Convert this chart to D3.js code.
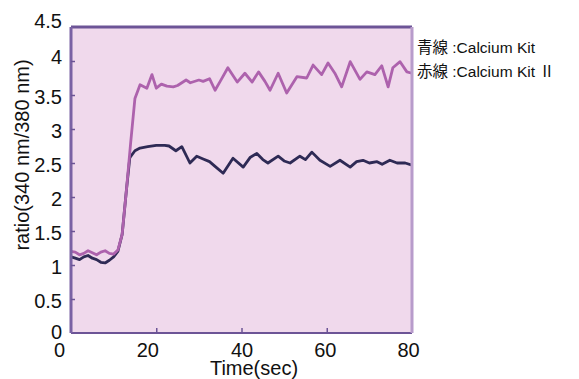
<!DOCTYPE html>
<html>
<head>
<meta charset="utf-8">
<script src="https://cdn.jsdelivr.net/npm/d3@7"></script>
<style>
  body { margin: 0; background: #fff; }
  svg text { font-family: "Liberation Sans", Arial, sans-serif; fill: #111; }
</style>
</head>
<body>
<svg id="chart" width="579" height="379"></svg>
<script>
// values
const xTicks = [0, 20, 40, 60, 80];
const yTicks = [0, 0.5, 1, 1.5, 2, 2.5, 3, 3.5, 4, 4.5];

// 赤線 : Calcium Kit II
const timeKit2 = [0,1,2,3,4,5,6,7,8,9,10,11,12,13,14,15,16.2,17.8,19,20,21.2,22.5,24,25,27,28,30,31,32.5,33.8,35,36.8,39,40.8,42.5,44,45.5,46.7,48.6,50.6,53,55.3,56.8,58.8,60.3,61.9,63.5,65.5,67.8,69.4,71.3,72.9,74.4,75.5,77.2,78.8,80];
const ratioKit2 = [1.20,1.19,1.15,1.17,1.21,1.18,1.15,1.19,1.21,1.17,1.16,1.22,1.45,2.1,2.8,3.45,3.65,3.6,3.8,3.6,3.66,3.63,3.62,3.64,3.72,3.68,3.72,3.7,3.74,3.57,3.7,3.9,3.69,3.82,3.69,3.84,3.7,3.57,3.82,3.53,3.77,3.75,3.94,3.8,3.97,3.82,3.62,3.99,3.73,3.84,3.8,3.93,3.62,3.9,3.99,3.84,3.82];

// 青線 : Calcium Kit
const timeKit = [0,1,2,3,4,5,6,7,8,9,10,11,12,13,13.8,15,16.2,18,20,22,23,24.6,26,27.9,29.5,31,32.5,34,35.7,38,40.4,42,43.6,45,46.2,48.6,50,51.4,53.7,55,56.5,58.4,60.8,63.1,65.5,67,68.5,70,71.8,73,74.8,76.5,78.4,80];
const ratioKit = [1.12,1.1,1.08,1.12,1.14,1.1,1.08,1.04,1.03,1.07,1.12,1.2,1.45,2.1,2.58,2.68,2.72,2.74,2.76,2.76,2.75,2.68,2.74,2.5,2.6,2.56,2.52,2.44,2.35,2.57,2.44,2.58,2.64,2.55,2.5,2.6,2.53,2.5,2.6,2.55,2.66,2.54,2.45,2.54,2.44,2.52,2.54,2.5,2.52,2.48,2.54,2.5,2.5,2.47];

const legendLines = ["青線 :Calcium Kit", "赤線 :Calcium Kit Ⅱ"];

const svg = d3.select("#chart");
const plotLeft = 71, plotRight = 412, plotTop = 27, plotBottom = 333;

const x = d3.scaleLinear().domain([0, 80]).range([plotLeft, plotRight]);
const y = d3.scaleLinear().domain([0, 4.5]).range([plotBottom, plotTop]);

// plot background
svg.append("rect")
  .attr("x", plotLeft).attr("y", plotTop)
  .attr("width", plotRight - plotLeft).attr("height", plotBottom - plotTop)
  .attr("fill", "#f0d9ec");

// lines
const line = d3.line().x(d => x(d[0])).y(d => y(d[1]));

svg.append("path")
  .datum(d3.zip(timeKit, ratioKit))
  .attr("d", line)
  .attr("fill", "none")
  .attr("stroke", "#2e2a55")
  .attr("stroke-width", 2.8)
  .attr("stroke-linejoin", "round");

svg.append("path")
  .datum(d3.zip(timeKit2, ratioKit2))
  .attr("d", line)
  .attr("fill", "none")
  .attr("stroke", "#ad62ad")
  .attr("stroke-width", 2.8)
  .attr("stroke-linejoin", "round");

// frame
svg.append("line").attr("x1", plotLeft).attr("x2", plotRight).attr("y1", plotTop).attr("y2", plotTop)
  .attr("stroke", "#6c5496").attr("stroke-width", 3);
svg.append("line").attr("x1", plotLeft).attr("x2", plotRight).attr("y1", plotBottom).attr("y2", plotBottom)
  .attr("stroke", "#6c5496").attr("stroke-width", 2);
svg.append("line").attr("x1", plotLeft).attr("x2", plotLeft).attr("y1", plotTop).attr("y2", plotBottom)
  .attr("stroke", "#7a62a4").attr("stroke-width", 3);
svg.append("line").attr("x1", plotRight).attr("x2", plotRight).attr("y1", plotTop).attr("y2", plotBottom)
  .attr("stroke", "#b89ccb").attr("stroke-width", 3);

// axes
const yAxis = svg.append("g")
  .attr("transform", `translate(${plotLeft},0)`)
  .call(d3.axisLeft(y).tickValues(yTicks).tickFormat(d3.format("")).tickSizeInner(-4).tickSizeOuter(0).tickPadding(9));
yAxis.select(".domain").remove();
yAxis.selectAll(".tick line").attr("stroke", "#6c5496").attr("stroke-width", 1.5)
  .filter(d => d === 0 || d === 4.5).remove();
yAxis.selectAll(".tick text").style("font-size", "20px").attr("fill", "#111")
  .attr("y", d => d === 4.5 ? -6 : d === 4 ? -4 : d === 0 ? -1 : 2);

const xAxis = svg.append("g")
  .attr("transform", `translate(0,${plotBottom})`)
  .call(d3.axisBottom(x).tickValues(xTicks).tickSizeInner(-5).tickSizeOuter(0).tickPadding(10));
xAxis.select(".domain").remove();
xAxis.selectAll(".tick line").attr("stroke", "#6c5496").attr("stroke-width", 1.5)
  .filter(d => d === 0 || d === 80).remove();
xAxis.selectAll(".tick text").style("font-size", "20px").attr("fill", "#111")
  .attr("dx", d => d === 0 ? -12 : d === 20 ? -9 : d === 60 ? -2 : d === 80 ? -4 : 0);

// axis titles
svg.append("text")
  .attr("x", 254).attr("y", 375)
  .attr("text-anchor", "middle")
  .style("font-size", "20px")
  .text("Time(sec)");

svg.append("text")
  .attr("transform", "translate(29,155) rotate(-90)")
  .attr("text-anchor", "middle")
  .style("font-size", "20px")
  .text("ratio(340 nm/380 nm)");

// legend
svg.selectAll(".legend")
  .data(legendLines)
  .enter()
  .append("text")
  .attr("class", "legend")
  .attr("x", 417)
  .attr("y", (d, i) => 53 + i * 24)
  .style("font-size", "15.5px")
  .style("font-family", "'Liberation Sans', 'Noto Sans CJK JP', sans-serif")
  .text(d => d);
</script>
</body>
</html>
